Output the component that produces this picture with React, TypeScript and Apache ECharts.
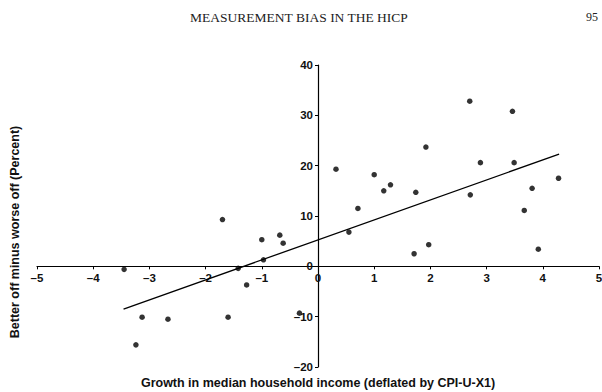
import React, { useEffect, useRef } from "react";
import * as echarts from "echarts";

// Growth in median household income (x) vs. better-off minus worse-off share (y)
const growthX = [
  -3.45, -3.24, -3.13, -2.67, -1.7, -1.6, -1.42, -1.27, -1.0, -0.97, -0.68,
  -0.62, -0.33, 0.32, 0.55, 0.71, 1.0, 1.17, 1.29, 1.71, 1.74, 1.92, 1.97,
  2.7, 2.71, 2.89, 3.46, 3.49, 3.67, 3.81, 3.92, 4.28,
];
const betterOffY = [
  -0.6, -15.6, -10.1, -10.5, 9.3, -10.1, -0.4, -3.7, 5.3, 1.3, 6.2, 4.6, -9.3,
  19.3, 6.8, 11.5, 18.2, 15.0, 16.2, 2.5, 14.7, 23.7, 4.3, 32.8, 14.2, 20.6,
  30.8, 20.6, 11.1, 15.5, 3.4, 17.5,
];

// Fitted regression line end points
const fitX = [-3.46, 4.29];
const fitY = [-8.5, 22.3];

const xTicks = { min: -5, max: 5, interval: 1 };
const yTicks = { min: -20, max: 40, interval: 10 };

const headerText = "MEASUREMENT BIAS IN THE HICP";
const pageNumber = "95";
const xTitle = "Growth in median household income (deflated by CPI-U-X1)";
const yTitle = "Better off minus worse off (Percent)";

const sans = "Liberation Sans, Arial, sans-serif";
const serif = "Liberation Serif, Times New Roman, serif";

const minusSign = (v: number) => String(v).replace("-", "\u2013");

// Plot box
const W = 602;
const H = 392;
const grid = { left: 37, right: 3, top: 65, bottom: 25 };
const plotW = W - grid.left - grid.right;
const plotH = H - grid.top - grid.bottom;
// Shift each axis from its grid edge onto the other axis's zero
const xAxisShift =
  -plotH * ((0 - yTicks.min) / (yTicks.max - yTicks.min));
const yAxisShift =
  -plotW * ((0 - xTicks.min) / (xTicks.max - xTicks.min));

export default function App() {
  const ref = useRef<HTMLDivElement>(null);

  useEffect(() => {
    if (!ref.current) return;
    const chart = echarts.init(ref.current, undefined, { renderer: "svg" });
    const points = growthX.map((x, i) => [x, betterOffY[i]]);
    const fitLine = fitX.map((x, i) => [x, fitY[i]]);

    const tickLabel = {
      color: "#111",
      fontFamily: sans,
      fontSize: 11.5,
      fontWeight: "bold",
      formatter: minusSign,
    };

    chart.setOption({
      animation: false,
      backgroundColor: "#ffffff",
      grid: {
        ...grid,
        containLabel: false,
        outerBoundsMode: "none",
      },
      xAxis: {
        type: "value",
        position: "bottom",
        offset: xAxisShift,
        min: xTicks.min,
        max: xTicks.max,
        interval: xTicks.interval,
        splitLine: { show: false },
        axisLine: { onZero: false, lineStyle: { color: "#000", width: 1.2 } },
        axisTick: { show: true, length: 3, lineStyle: { color: "#000" } },
        axisLabel: {
          ...tickLabel,
          margin: 6,
          showMinLabel: true,
          showMaxLabel: true,
        },
      },
      yAxis: {
        type: "value",
        position: "left",
        offset: yAxisShift,
        min: yTicks.min,
        max: yTicks.max,
        interval: yTicks.interval,
        splitLine: { show: false },
        axisLine: { onZero: false, lineStyle: { color: "#000", width: 1.2 } },
        axisTick: { show: true, length: 3, lineStyle: { color: "#000" } },
        axisLabel: { ...tickLabel, margin: 5 },
      },
      graphic: [
        {
          type: "text",
          x: 299,
          y: 17,
          style: {
            text: headerText,
            font: `13.5px ${serif}`,
            fill: "#222",
            align: "center",
            verticalAlign: "middle",
          },
        },
        {
          type: "text",
          x: 598,
          y: 17,
          style: {
            text: pageNumber,
            font: `12px ${serif}`,
            fill: "#222",
            align: "right",
            verticalAlign: "middle",
          },
        },
        {
          type: "text",
          x: 318,
          y: 383,
          style: {
            text: xTitle,
            font: `bold 12.5px ${sans}`,
            fill: "#111",
            align: "center",
            verticalAlign: "middle",
          },
        },
        {
          type: "text",
          x: 15,
          y: 232,
          rotation: Math.PI / 2,
          style: {
            text: yTitle,
            font: `bold 12.5px ${sans}`,
            fill: "#111",
            align: "center",
            verticalAlign: "middle",
          },
        },
      ],
      series: [
        {
          type: "line",
          data: fitLine,
          symbol: "none",
          lineStyle: { color: "#000", width: 1.3 },
          silent: true,
          z: 2,
        },
        {
          type: "scatter",
          data: points,
          symbol: "circle",
          symbolSize: 5.5,
          itemStyle: { color: "#000" },
          z: 3,
        },
      ],
    });

    return () => chart.dispose();
  }, []);

  return (
    <div
      ref={ref}
      style={{ position: "fixed", left: 0, top: 0, width: W, height: H }}
    />
  );
}
